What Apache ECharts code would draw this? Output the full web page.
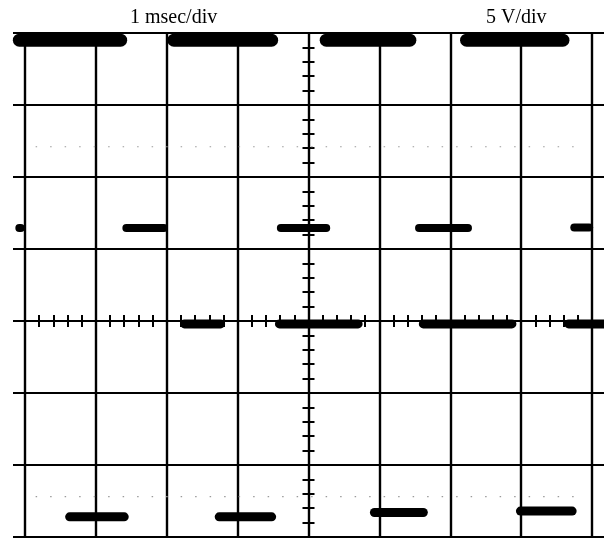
<!DOCTYPE html>
<html>
<head>
<meta charset="utf-8">
<script src="https://cdn.jsdelivr.net/npm/echarts@6/dist/echarts.min.js"></script>
<style>
html,body{margin:0;padding:0;background:#fff;}
#c{width:604px;height:540px;}
</style>
</head>
<body>
<div id="c"></div>
<script>
// Horizontal: msec (1 msec/div), centre = 0. Vertical: volts (5 V/div), centre = 0.
const timeTicks = [-4, -3, -2, -1, 0, 1, 2, 3, 4];
const voltTicks = [-15, -10, -5, 0, 5, 10, 15, 20];
const timeLabel = '1 msec/div';
const voltLabel = '5 V/div';

// Trace segments: [start msec, end msec]
const highSegments = [[-4.08, -2.65], [-1.90, -0.52], [0.25, 1.43], [2.23, 3.59]];
const highVolts = [19.5, 19.5, 19.5, 19.5];

const midSegments = [[-4.08, -4.06], [-2.57, -2.04], [-0.39, 0.25], [1.56, 2.25], [3.75, 3.96]];
const midVolts = [6.45, 6.45, 6.45, 6.45, 6.5];

const zeroSegments = [[-1.75, -1.24], [-0.41, 0.70], [1.62, 2.87], [3.67, 4.17]];
const zeroVolts = [-0.2, -0.2, -0.2, -0.2];

const lowSegments = [[-3.37, -2.60], [-1.26, -0.52], [0.93, 1.62], [2.99, 3.72]];
const lowVolts = [-13.6, -13.6, -13.3, -13.2];

const dottedVolts = [12.1, -12.2];

const chart = echarts.init(document.getElementById('c'));

const series = [];
function addGroup(segs, volts, width) {
  segs.forEach((s, i) => {
    series.push({
      type: 'line', xAxisIndex: 0, yAxisIndex: 0,
      symbol: 'none', clip: false, silent: true, animation: false, z: 5,
      lineStyle: { color: '#000', width: width, cap: 'round' },
      data: [[s[0], volts[i]], [s[1], volts[i]]]
    });
  });
}
dottedVolts.forEach(v => {
  series.push({
    type: 'line', xAxisIndex: 0, yAxisIndex: 0,
    symbol: 'none', silent: true, animation: false, z: 1,
    lineStyle: { color: '#9a9a9a', width: 1.2, type: [1.5, 13] },
    data: [[timeTicks[0] + 0.15, v], [timeTicks[timeTicks.length - 1] - 0.15, v]]
  });
});
addGroup(highSegments, highVolts, 13);
addGroup(midSegments, midVolts, 8);
addGroup(zeroSegments, zeroVolts, 9);
addGroup(lowSegments, lowVolts, 9);

const tMin = timeTicks[0], tMax = timeTicks[timeTicks.length - 1];
const vMin = voltTicks[0], vMax = voltTicks[voltTicks.length - 1];
const edgePad = 0.1693; // grid lines overhang the graticule by 12 px on each side
const lineCol = '#000';

function centreX(inside) {
  return {
    gridIndex: 1, type: 'value', min: tMin, max: tMax, interval: 0.2, position: 'bottom',
    axisLine: { show: true, onZero: true, onZeroAxisIndex: 1, lineStyle: { color: lineCol, width: 2 } },
    axisTick: { show: true, inside: inside, length: 6, lineStyle: { color: lineCol, width: 2 } },
    axisLabel: { show: false }, splitLine: { show: false }
  };
}
function centreY(inside) {
  return {
    gridIndex: 1, type: 'value', min: vMin, max: vMax, interval: 1, position: 'left',
    axisLine: { show: true, onZero: true, onZeroAxisIndex: 1, lineStyle: { color: lineCol, width: 2 } },
    axisTick: { show: true, inside: inside, length: 6, lineStyle: { color: lineCol, width: 2 } },
    axisLabel: { show: false }, splitLine: { show: false }
  };
}

chart.setOption({
  animation: false,
  backgroundColor: '#fff',
  title: [
    { text: timeLabel, left: 130, top: 8, padding: 0,
      textStyle: { fontFamily: 'Liberation Serif', fontSize: 20, fontWeight: 'normal', color: '#000' } },
    { text: voltLabel, left: 486, top: 8, padding: 0,
      textStyle: { fontFamily: 'Liberation Serif', fontSize: 20, fontWeight: 'normal', color: '#000' } }
  ],
  grid: [
    { left: 13, right: 0, top: 33, bottom: 3 },
    { left: 25, right: 12, top: 33, bottom: 3 }
  ],
  xAxis: [
    { gridIndex: 0, type: 'value', min: tMin - edgePad, max: tMax + edgePad, show: false },
    { gridIndex: 1, type: 'value', min: tMin, max: tMax, interval: 1,
      axisLine: { show: false, onZero: false }, axisTick: { show: false }, axisLabel: { show: false },
      splitLine: { show: true, lineStyle: { color: lineCol, width: 2.4 } } },
    centreX(false),
    centreX(true)
  ],
  yAxis: [
    { gridIndex: 0, type: 'value', min: vMin, max: vMax, interval: 5,
      axisLine: { show: false, onZero: false }, axisTick: { show: false }, axisLabel: { show: false },
      splitLine: { show: true, lineStyle: { color: lineCol, width: 2 } } },
    { gridIndex: 1, type: 'value', min: vMin, max: vMax, interval: 5,
      axisLine: { show: false, onZero: false }, axisTick: { show: false }, axisLabel: { show: false },
      splitLine: { show: false } },
    centreY(false),
    centreY(true)
  ],
  series: series
});
</script>
</body>
</html>
